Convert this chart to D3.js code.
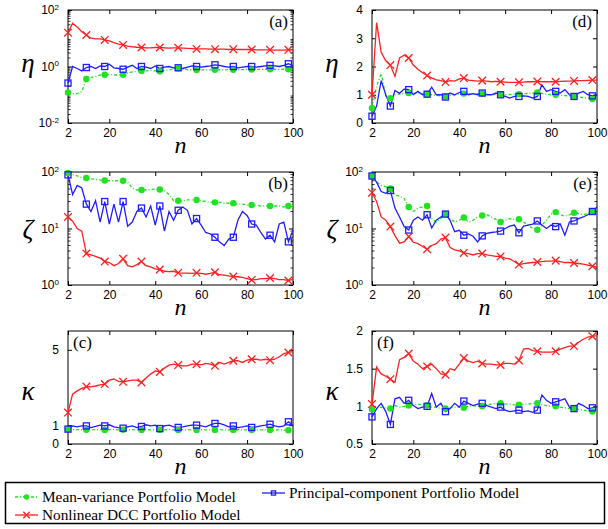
<!DOCTYPE html>
<html>
<head>
<meta charset="utf-8">
<script src="https://cdn.jsdelivr.net/npm/d3@7"></script>
<style>
	body { margin: 0; background: #fff; }
	text { fill: #000; }
</style>
</head>
<body>
<svg id="chart"></svg>
<script>
var svg = d3.select("#chart").attr("width", 608).attr("height", 529);

var pw = 225, ph = 113;

var nValues = [2,4,6,8,10, 12,14,16,18,20, 22,24,26,28,30, 32,34,36,38,40, 42,44,46,48,50,
	52,54,56,58,60, 62,64,66,68,70, 72,74,76,78,80, 82,84,86,88,90, 92,94,96,98,100];
var xTicks = [2, 20, 40, 60, 80, 100];

var modelNames = ["Mean-variance Portfolio Model", "Principal-component Portfolio Model", "Nonlinear DCC Portfolio Model"];
var colors = ["#22e022", "#1e1eff", "#ff2020"];

// (a) eta, log scale
var aMV = [0.12,0.11,0.11,0.13,0.36, 0.40,0.45,0.50,0.51,0.52, 0.50,0.50,0.51,0.58,0.65, 0.68,0.70,0.70,0.72,0.70,
	0.68,0.72,0.76,0.82,0.87, 0.82,0.78,0.76,0.75,0.76, 0.75,0.76,0.76,0.77,0.76, 0.78,0.76,0.77,0.78,0.79,
	0.78,0.79,0.79,0.80,0.80, 0.80,0.79,0.80,0.80,0.80];
var aPC = [0.26,1.00,0.85,0.70,0.92, 1.00,0.85,1.05,1.00,1.20, 0.90,0.85,0.80,0.95,1.10, 0.85,1.00,0.95,0.85,1.05,
	0.85,0.95,1.00,0.90,0.90, 0.85,0.95,1.05,1.00,0.95, 1.00,1.05,1.15,1.10,1.00, 0.95,1.00,0.90,0.95,1.00,
	1.00,0.95,1.00,1.05,1.10, 1.05,1.00,1.10,1.25,1.05];
var aDCC = [15.8,34,25,17,13, 10,9.5,9.5,8.7,8, 7,6.2,5.8,5.3,5, 4.8,4.7,4.6,4.6,4.7,
	4.7,4.6,4.5,4.6,4.6, 4.5,4.4,4.3,4.2,4.2, 4.2,4.1,4.1,4.1,4.1, 4.0,4.1,4.0,4.0,4.0,
	4.0,3.9,3.9,3.9,3.9, 3.8,3.8,3.8,3.9,3.9];

// (b) zeta, log scale
var bMV = [96,90,85,80,78, 76,74,72,71,70, 70,70,70,66,52, 48,48,48,49,50,
	49,47,40,31,31, 31,32,32,32,31, 30,29,29,29,28, 28,28,27,27,26,
	26,26,25,25,25, 25,25,24,25,24];
var bPC = [89,40,58,52,27, 20,31,13,30,12, 27,13,30,11,13, 20,23,16,25,11.5,
	25,9,20,14,21, 24,21,12,15,11.5, 8.5,8,7,5.8,5, 6.5,7,14,20,17,
	12,11.5,8.5,6.5,7.6, 5.8,12,13,5.8,9.3];
var bDCC = [16,13.5,10,9,3.6, 3.4,3.2,3.0,2.6,2.5, 2.2,2.4,2.9,2.2,2.1, 2.3,2.6,2.2,2.1,1.93,
	1.88,1.75,1.72,1.75,1.64, 1.62,1.62,1.6,1.64,1.6, 1.55,1.6,1.68,1.52,1.5, 1.45,1.41,1.4,1.36,1.3,
	1.23,1.25,1.3,1.3,1.33, 1.3,1.25,1.25,1.2,1.26];

// (c) kappa
var cMV = [0.79,0.77,0.76,0.76,0.76, 0.75,0.76,0.76,0.75,0.76, 0.76,0.75,0.76,0.75,0.76, 0.75,0.75,0.76,0.75,0.76,
	0.75,0.75,0.76,0.75,0.75, 0.76,0.75,0.75,0.75,0.76, 0.75,0.75,0.75,0.76,0.75, 0.75,0.75,0.76,0.75,0.75,
	0.75,0.74,0.75,0.75,0.74, 0.74,0.75,0.74,0.73,0.74];
var cPC = [0.79,0.96,0.91,0.96,0.96, 0.87,0.93,1.00,0.96,1.02, 0.91,0.87,0.84,0.91,0.96, 0.87,0.93,1.02,0.96,1.00,
	0.82,0.96,1.00,0.91,0.88, 0.91,0.96,1.00,1.00,0.96, 0.91,1.02,1.09,1.09,1.02, 0.91,0.96,0.87,0.91,0.96,
	0.88,0.91,0.96,1.00,1.05, 0.96,0.91,0.96,1.18,1.00];
var cDCC = [1.67,2.65,2.82,2.95,3.05, 3.03,3.08,3.14,3.18,3.39, 3.45,3.32,3.30,3.35,3.39, 3.39,3.27,3.50,3.71,3.88,
	3.83,4.03,4.19,4.24,4.19, 4.15,4.15,4.24,4.24,4.20, 4.28,4.24,4.15,4.33,4.24, 4.33,4.42,4.42,4.33,4.45,
	4.50,4.50,4.45,4.50,4.45, 4.50,4.63,4.80,4.86,4.91];

// (d) eta
var dMV = [0.53,1.30,1.75,0.95,0.88, 1.00,1.02,1.05,1.06,1.05, 1.08,1.04,1.02,1.00,0.98, 0.96,0.94,0.98,1.00,1.03,
	1.04,1.03,1.02,1.04,1.04, 1.02,1.00,1.02,1.02,1.00, 1.01,1.02,1.02,1.04,1.05, 1.06,1.08,1.05,1.02,1.00,
	1.00,0.98,0.97,0.96,0.94, 0.92,0.90,0.88,0.85,0.86];
var dPC = [0.24,0.60,1.50,1.00,0.60, 1.15,1.05,1.20,1.18,1.00, 1.12,1.00,1.02,1.27,1.00, 1.00,0.92,1.06,1.00,1.08,
	1.12,1.00,1.04,1.00,1.06, 1.00,1.00,1.06,1.00,0.94, 0.88,0.94,0.94,0.96,0.94, 0.88,0.94,1.35,1.12,1.18,
	1.12,1.06,1.18,1.00,0.94, 1.06,1.12,1.00,0.96,1.00];
var dDCC = [1.00,3.55,2.50,2.20,2.05, 1.65,2.30,2.40,2.30,2.05, 1.90,1.78,1.68,1.60,1.53, 1.50,1.45,1.50,1.48,1.56,
	1.59,1.52,1.50,1.48,1.50, 1.48,1.46,1.47,1.46,1.45, 1.44,1.44,1.44,1.45,1.46, 1.46,1.47,1.46,1.46,1.46,
	1.46,1.47,1.48,1.48,1.49, 1.50,1.50,1.51,1.52,1.52];

// (e) zeta, log scale
var eMV = [85,66,58,55,51, 40,37,34,24,20, 23,24,25,15,13, 15,18,15,13,14,
	15.6,13,14,16,17, 17.5,16,14.5,13,14, 15,14.5,14.6,13,11.5, 10,9.5,11.5,14,18,
	19.5,17.5,16.5,17.5,19, 18.5,17.5,18.5,20,21];
var ePC = [85,66,45,42,47, 23,16,10.8,9.4,14, 16,14,17.5,10.2,14, 16,18,14,8.8,9.3,
	7.6,8,7.3,5.8,7.4, 8.2,8.5,8.7,9.0,10, 11,11.5,8.4,11,11.5, 12,13.6,11.5,10,11.5,
	10.8,12,7.6,13,13.6, 15,16,17.5,20,24];
var eDCC = [43,30,16,14,10.8, 7.5,5.5,5.8,7.2,5.7, 5.4,4.8,4.3,5.0,5.4, 6.5,6.9,4.6,4.2,4.0,
	3.7,3.6,3.4,3.6,3.6, 3.4,3.3,3.2,3.2,3.0, 2.9,2.6,2.3,2.4,2.45, 2.5,2.55,2.6,2.65,2.65,
	2.7,2.6,2.5,2.5,2.45, 2.4,2.35,2.25,2.15,2.1];

// (f) kappa
var fMV = [0.96,0.97,0.99,0.98,0.97, 1.01,0.99,1.00,1.01,1.02, 1.03,1.02,1.01,0.99,0.99, 0.97,0.97,0.98,0.99,0.99,
	0.98,1.00,1.01,1.00,1.00, 1.02,1.03,1.04,1.04,1.03, 1.03,1.02,1.02,1.03,1.03, 1.04,1.04,1.02,1.01,1.00,
	1.00,0.99,0.98,0.97,0.97, 0.96,0.95,0.94,0.93,0.94];
var fPC = [0.86,0.97,1.04,0.93,0.76, 1.10,1.12,1.04,1.08,1.01, 0.97,0.99,1.00,1.17,0.99, 1.04,0.93,0.97,1.04,0.99,
	1.07,1.04,1.01,1.03,1.04, 1.01,0.99,0.97,0.99,0.95, 0.93,0.94,0.95,0.93,0.94, 0.92,0.95,1.15,1.08,1.04,
	1.06,1.08,1.10,0.99,0.97, 1.04,1.01,0.97,0.98,0.99];
var fDCC = [1.03,1.52,1.43,1.40,1.36, 1.32,1.62,1.65,1.70,1.60, 1.56,1.50,1.53,1.56,1.50, 1.43,1.42,1.50,1.48,1.56,
	1.64,1.60,1.58,1.60,1.57, 1.56,1.56,1.55,1.55,1.57, 1.57,1.56,1.61,1.76,1.77, 1.74,1.73,1.72,1.72,1.72,
	1.73,1.76,1.78,1.80,1.80, 1.85,1.89,1.92,1.93,1.94];

var panels = [
	{tag: "(a)", label: "η", left: 68, top: 10, log: true, domain: [1e-2, 1e2], ticks: [1e-2, 1, 1e2], labelDy: 5, tagRight: true, series: [aMV, aPC, aDCC]},
	{tag: "(b)", label: "ζ", left: 68, top: 172, log: true, domain: [1, 100], ticks: [1, 10, 100], labelDy: 9, tagRight: true, series: [bMV, bPC, bDCC]},
	{tag: "(c)", label: "κ", left: 68, top: 331, log: false, domain: [0, 6], ticks: [0, 1, 5], labelDy: 12, tagRight: false, series: [cMV, cPC, cDCC]},
	{tag: "(d)", label: "η", left: 372, top: 10, log: false, domain: [0, 4], ticks: [0, 1, 2, 3, 4], labelDy: 5, tagRight: true, series: [dMV, dPC, dDCC]},
	{tag: "(e)", label: "ζ", left: 372, top: 172, log: true, domain: [1, 100], ticks: [1, 10, 100], labelDy: 9, tagRight: true, series: [eMV, ePC, eDCC]},
	{tag: "(f)", label: "κ", left: 372, top: 331, log: false, domain: [0.5, 2], ticks: [0.5, 1, 1.5, 2], labelDy: 12, tagRight: false, series: [fMV, fPC, fDCC]}
];

var xScale = d3.scaleLinear().domain([2, 100]).range([0, pw]);

function drawMarker(g, k, x, y, s) {
	if (k == 0) {
		g.append("circle").attr("cx", x).attr("cy", y).attr("r", s * 0.85)
			.attr("fill", colors[0]);
	} else if (k == 1) {
		g.append("rect").attr("x", x - s * 0.8).attr("y", y - s * 0.8)
			.attr("width", s * 1.6).attr("height", s * 1.6)
			.attr("fill", "none").attr("stroke", colors[1]).attr("stroke-width", 1.3);
	} else {
		g.append("path")
			.attr("d", "M" + (x - s) + "," + (y - s) + "L" + (x + s) + "," + (y + s) +
				"M" + (x - s) + "," + (y + s) + "L" + (x + s) + "," + (y - s))
			.attr("stroke", colors[2]).attr("stroke-width", 1.3);
	}
}

function supLabel(sel) {
	sel.each(function(d) {
		var t = d3.select(this).text(null);
		t.append("tspan").text("10");
		t.append("tspan").attr("dy", "-0.55em").attr("font-size", "8px")
			.text(Math.round(Math.log10(d)));
	});
}

panels.forEach(function(p) {
	var g = svg.append("g")
		.attr("transform", "translate(" + p.left + "," + p.top + ")");

	var yScale = (p.log ? d3.scaleLog() : d3.scaleLinear())
		.domain(p.domain)
		.range([ph, 0]);

	// minor ticks for log panels
	if (p.log) {
		var minors = [];
		for (var e = Math.log10(p.domain[0]); e < Math.log10(p.domain[1]); e++)
			for (var m = 2; m < 10; m++) minors.push(m * Math.pow(10, e));
		g.selectAll(".minor")
			.data(minors)
			.enter()
			.append("path")
				.attr("d", function(d) {
					var y = yScale(d);
					return "M0," + y + "h2.5M" + pw + "," + y + "h-2.5";
				})
				.attr("stroke", "#000")
				.attr("stroke-width", 0.8);
	}

	g.append("g")
		.attr("transform", "translate(0," + ph + ")")
		.call(d3.axisBottom(xScale).tickValues(xTicks).tickSizeInner(-4).tickSizeOuter(0).tickPadding(5));
	g.append("g")
		.call(d3.axisTop(xScale).tickValues(xTicks).tickSizeInner(-4).tickSizeOuter(0).tickFormat(""));

	var left = g.append("g")
		.call(d3.axisLeft(yScale).tickValues(p.ticks).tickSizeInner(-4).tickSizeOuter(0).tickPadding(9)
			.tickFormat(function(d) { return d; }));
	g.append("g")
		.attr("transform", "translate(" + pw + ",0)")
		.call(d3.axisRight(yScale).tickValues(p.ticks).tickSizeInner(-4).tickSizeOuter(0).tickFormat(""));

	if (p.log) supLabel(left.selectAll(".tick text"));

	g.selectAll(".domain").remove();
	g.selectAll(".tick text")
		.attr("font-family", "Liberation Sans, Arial, sans-serif")
		.attr("font-size", 12)
		.attr("fill", "#000");

	g.append("rect")
		.attr("width", pw)
		.attr("height", ph)
		.attr("fill", "none")
		.attr("stroke", "#000")
		.attr("stroke-width", 1);

	var line = d3.line()
		.x(function(d, i) { return xScale(nValues[i]); })
		.y(function(d) { return yScale(d); });

	p.series.forEach(function(vals, k) {
		g.append("path")
			.datum(vals)
			.attr("d", line)
			.attr("fill", "none")
			.attr("stroke", colors[k])
			.attr("stroke-width", 1.3)
			.attr("stroke-dasharray", k == 0 ? "3,2,1,2" : null);
	});

	p.series.forEach(function(vals, k) {
		vals.forEach(function(v, i) {
			if ((nValues[i] - 2) % 8 == 0)
				drawMarker(g, k, xScale(nValues[i]), yScale(v), 3.8);
		});
	});

	g.append("text")
		.attr("x", p.tagRight ? pw - 5 : 5)
		.attr("y", 17)
		.attr("text-anchor", p.tagRight ? "end" : "start")
		.attr("font-family", "Liberation Serif, Times New Roman, serif")
		.attr("font-size", 17)
		.text(p.tag);

	g.append("text")
		.attr("x", -40)
		.attr("y", ph / 2 + p.labelDy)
		.attr("text-anchor", "middle")
		.attr("font-family", "Liberation Serif, Times New Roman, serif")
		.attr("font-style", "italic")
		.attr("font-size", 27)
		.text(p.label);

	g.append("text")
		.attr("x", pw / 2)
		.attr("y", ph + 30)
		.attr("text-anchor", "middle")
		.attr("font-family", "Liberation Serif, Times New Roman, serif")
		.attr("font-style", "italic")
		.attr("font-size", 24)
		.text("n");
});

// legend
var legend = svg.append("g").attr("class", "legend");

legend.append("rect")
	.attr("x", 5.5)
	.attr("y", 482.5)
	.attr("width", 599)
	.attr("height", 41)
	.attr("fill", "#fff")
	.attr("stroke", "#000")
	.attr("stroke-width", 1.5);

var legendPos = [{x: 15, y: 497}, {x: 262, y: 493}, {x: 15, y: 515}];

legendPos.forEach(function(pos, k) {
	legend.append("line")
		.attr("x1", pos.x)
		.attr("x2", pos.x + 23)
		.attr("y1", pos.y)
		.attr("y2", pos.y)
		.attr("stroke", colors[k])
		.attr("stroke-width", 1.3)
		.attr("stroke-dasharray", k == 0 ? "3,2,1,2" : null);
	drawMarker(legend, k, pos.x + 11.5, pos.y, k == 1 ? 2.6 : 3.2);
	legend.append("text")
		.attr("x", pos.x + 27)
		.attr("y", pos.y + 5)
		.attr("font-family", "Liberation Serif, Times New Roman, serif")
		.attr("font-size", 15.3)
		.text(modelNames[k]);
});
</script>
</body>
</html>
